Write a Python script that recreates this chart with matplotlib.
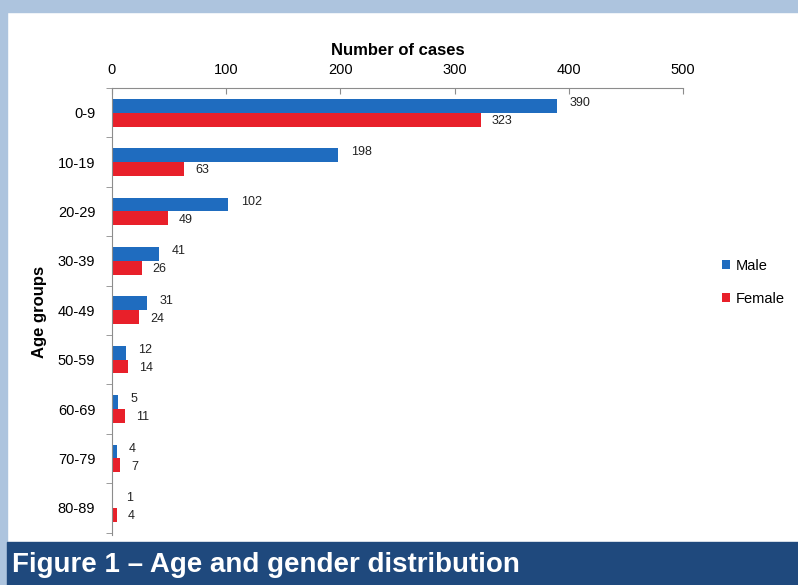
import matplotlib.pyplot as plt
from matplotlib.patches import Rectangle

age_groups = ['0-9', '10-19', '20-29', '30-39', '40-49', '50-59', '60-69', '70-79', '80-89']
male = [390, 198, 102, 41, 31, 12, 5, 4, 1]
female = [323, 63, 49, 26, 24, 14, 11, 7, 4]
x_ticks = [0, 100, 200, 300, 400, 500]

blue = '#1f6cbf'
red = '#e8202a'
axis_grey = '#8c8c8c'
font = 'Liberation Sans'

fig = plt.figure(figsize=(7.98, 5.85), dpi=100)
fig.patch.set_facecolor('white')

# light blue frame and dark banner
fig.patches.append(Rectangle((0, 1 - 12 / 585), 1, 12 / 585, transform=fig.transFigure,
                             color='#adc4de', zorder=0))
fig.patches.append(Rectangle((0, 0), 7 / 798, 1, transform=fig.transFigure,
                             color='#adc4de', zorder=0))
fig.patches.append(Rectangle((7 / 798, 0), 1, 43 / 585, transform=fig.transFigure,
                             color='#1f497d', zorder=1))
fig.text(12 / 798, 20 / 585, 'Figure 1 \u2013 Age and gender distribution', color='white',
         fontsize=20, fontweight='bold', family=font, va='center', ha='left')

ax = fig.add_axes([112 / 798, 50 / 585, (683 - 112) / 798, (535 - 88) / 585])
n = len(age_groups)
pos = list(range(n))
h = 0.28
ax.barh([p - h / 2 for p in pos], male, height=h, color=blue, label='Male')
ax.barh([p + h / 2 for p in pos], female, height=h, color=red, label='Female')

for p, m, f in zip(pos, male, female):
    ax.annotate(str(m), (m, p - h / 2), xytext=(9, 2), textcoords='offset points',
                fontsize=9, va='center', ha='left', family=font, color='#222222')
    ax.annotate(str(f), (f, p + h / 2), xytext=(8, -1), textcoords='offset points',
                fontsize=9, va='center', ha='left', family=font, color='#222222')

ax.set_xlim(0, 500)
ax.set_ylim(n - 0.5 + 0.05, -0.5)
ax.xaxis.tick_top()
ax.xaxis.set_label_position('top')
ax.set_xticks(x_ticks)
ax.set_xticklabels([str(t) for t in x_ticks], family=font, fontsize=10.5)
ax.set_yticks(pos)
ax.set_yticklabels(age_groups, family=font, fontsize=10.5)
ax.set_yticks([p - 0.5 for p in pos] + [n - 0.5], minor=True)
ax.tick_params(axis='y', which='major', length=0, pad=12)
ax.tick_params(axis='y', which='minor', length=4, color=axis_grey, direction='out')
ax.tick_params(axis='x', which='major', length=4, color=axis_grey, direction='in', pad=8)
ax.set_xlabel('Number of cases', fontweight='bold', fontsize=12, family=font, labelpad=6)
ax.set_ylabel('Age groups', fontweight='bold', fontsize=12, family=font, labelpad=8)

for s in ['right', 'bottom']:
    ax.spines[s].set_visible(False)
ax.spines['top'].set_color(axis_grey)
ax.spines['left'].set_color(axis_grey)

ax.legend(loc='center left', bbox_to_anchor=(1.045, 0.565), frameon=False,
          handlelength=0.55, handleheight=0.55, handletextpad=0.4, labelspacing=1.3,
          prop={'family': font, 'size': 10.5})

fig.savefig('out.png', dpi=100, facecolor=fig.get_facecolor())
